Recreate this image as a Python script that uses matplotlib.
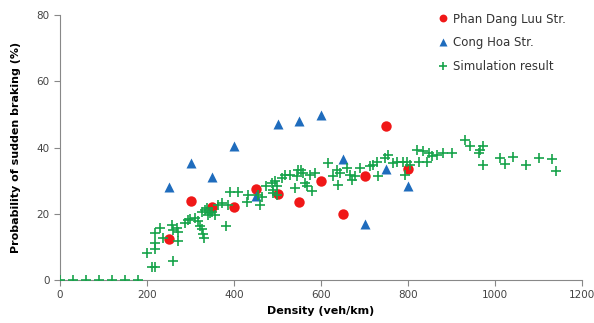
import matplotlib
matplotlib.use("Agg")
import matplotlib.pyplot as plt

# field measurements
dens_obs = [250, 300, 350, 400, 450, 500, 550, 600, 650, 700, 750, 800]
phan_dang_luu = [12.5, 24, 22, 22, 27.5, 26, 23.5, 30, 20, 31.5, 46.5, 33.5]
cong_hoa = [28, 35.5, 31, 40.5, 25.5, 47, 48, 50, 36.5, 17, 33.5, 28.5]

# simulation (density, probability)
sim_x = [0, 30, 60, 90, 120, 150, 180,
         199, 211, 218, 218, 218, 218, 230, 237, 257, 259, 260, 268, 272, 272,
         287, 295, 299, 310, 318, 322, 326, 329, 330, 326, 333, 337, 341, 345,
         349, 356, 364, 372, 382, 387, 391, 410, 429, 433, 456, 460, 464, 473,
         487, 490, 490, 494, 498, 498, 510, 517, 529, 540, 544, 548, 555, 559,
         563, 567, 575, 579, 586, 617, 628, 636, 640, 644, 659, 667, 671, 678,
         690, 713, 720, 728, 732, 747, 755, 766, 774, 789, 793, 797, 805, 820,
         824, 835, 843, 847, 854, 866, 881, 900, 931, 942, 962, 965, 973, 973,
         1011, 1023, 1042, 1070, 1102, 1130, 1140]
sim_y = [0, 0, 0, 0, 0, 0, 0,
         8.3, 3.8, 3.8, 9.3, 11.1, 14.3, 15.7, 12.6, 16.7, 5.8, 15.2, 15.7, 14.6, 11.9,
         17.2, 18, 18.4, 18.7, 17.7, 16.2, 15.4, 13.9, 12.6, 20.7, 21.2, 21.7, 19.7, 20.2,
         20.7, 19.7, 22.7, 23.2, 16.2, 22.7, 26.5, 26.5, 23.7, 25.8, 25.8, 22.7, 25.2, 28.3,
         29.3, 27.3, 26.3, 29.8, 28.3, 25.8, 30.8, 31.8, 31.8, 27.8, 31.3, 33.3, 33.3, 32.3,
         29.3, 28.3, 31.8, 26.8, 32.3, 35.3, 31.3, 33.3, 28.8, 32.3, 33.8, 31.8, 30.3, 31.3,
         33.8, 34.3, 34.8, 35.8, 31.3, 36.9, 37.9, 35.4, 35.8, 35.8, 31.8, 35.8, 34.8, 39.4,
         35.8, 38.9, 35.8, 38.4, 37.4, 37.9, 38.4, 38.4, 42.4, 40.4, 38.4, 39.4, 40.4, 34.8,
         37, 35.2, 37.2, 34.8, 36.8, 36.6, 33]

fig = plt.figure(figsize=(5.94, 3.23), dpi=100)
ax = fig.add_axes([0.101, 0.133, 0.879, 0.82])

ax.plot(dens_obs, phan_dang_luu, 'o', color='#f01818', ms=7.5, mec='none',
        label='Phan Dang Luu Str.', zorder=3)
ax.plot(dens_obs, cong_hoa, '^', color='#1f6cbd', ms=7, mec='none',
        label='Cong Hoa Str.', zorder=3)
ax.plot(sim_x, sim_y, '+', color='#16a34a', ms=7.5, mew=1.2,
        label='Simulation result', zorder=4)

ax.set_xlim(0, 1200)
ax.set_ylim(0, 80)
ax.set_xticks(range(0, 1201, 200))
ax.set_yticks(range(0, 81, 20))
for s in ['top', 'right']:
    ax.spines[s].set_visible(False)
for s in ['left', 'bottom']:
    ax.spines[s].set_color('#888888')
ax.tick_params(colors='#888888', labelcolor='#444444', labelsize=7.5,
               length=4, direction='out')

ax.set_xlabel('Density (veh/km)', fontsize=8, fontweight='bold', labelpad=4)
ax.set_ylabel('Probability of sudden braking (%)', fontsize=8,
              fontweight='bold', labelpad=11)

leg = ax.legend(loc='upper left', bbox_to_anchor=(0.70, 1.05), frameon=False,
                fontsize=8.5, handletextpad=0.2, labelspacing=0.9,
                handlelength=1.2, markerscale=0.75)
for t in leg.get_texts():
    t.set_color('#333333')

fig.savefig('out.png', dpi=100)
